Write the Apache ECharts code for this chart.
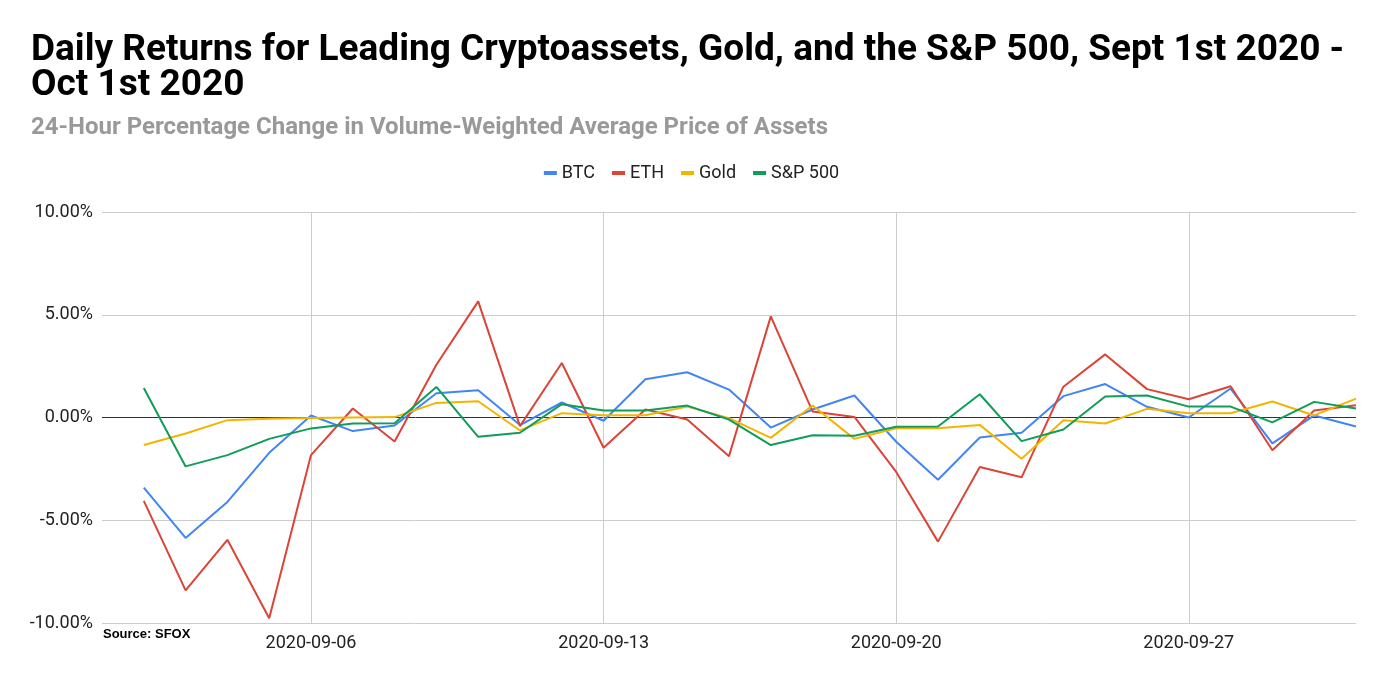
<!DOCTYPE html>
<html>
<head>
<meta charset="utf-8">
<script src="https://cdn.jsdelivr.net/npm/echarts@6/dist/echarts.min.js"></script>
<style>
  html, body { margin: 0; padding: 0; background: #fff; }
  #chart { width: 1383px; height: 677px; }
</style>
</head>
<body>
<div id="chart"></div>
<script>
(function() {
  // axis runs from Sep 1st, data starts Sep 2nd
  var axisDays = ['2020-09-01', '2020-09-02', '2020-09-03', '2020-09-04', '2020-09-05', '2020-09-06',
    '2020-09-07', '2020-09-08', '2020-09-09', '2020-09-10', '2020-09-11', '2020-09-12', '2020-09-13',
    '2020-09-14', '2020-09-15', '2020-09-16', '2020-09-17', '2020-09-18', '2020-09-19', '2020-09-20',
    '2020-09-21', '2020-09-22', '2020-09-23', '2020-09-24', '2020-09-25', '2020-09-26', '2020-09-27',
    '2020-09-28', '2020-09-29', '2020-09-30', '2020-10-01'];
  var dates = axisDays.slice(1);
  var tickDays = ['2020-09-06', '2020-09-13', '2020-09-20', '2020-09-27'];

  var btc = [-3.41, -5.86, -4.11, -1.72, 0.10, -0.66, -0.39, 1.18, 1.33, -0.37,
    0.73, -0.16, 1.86, 2.20, 1.36, -0.49, 0.39, 1.07, -1.18, -3.03,
    -0.97, -0.74, 1.04, 1.63, 0.52, 0.00, 1.41, -1.26, 0.10, -0.44];
  var eth = [-4.06, -8.41, -5.95, -9.77, -1.83, 0.44, -1.17, 2.57, 5.65, -0.42,
    2.65, -1.47, 0.39, -0.10, -1.88, 4.92, 0.29, 0.03, -2.65, -6.04,
    -2.41, -2.91, 1.50, 3.07, 1.38, 0.89, 1.52, -1.59, 0.34, 0.60];
  var gold = [-1.34, -0.78, -0.13, -0.06, -0.02, 0.00, 0.02, 0.71, 0.79, -0.63,
    0.21, 0.11, 0.11, 0.53, -0.03, -0.99, 0.58, -1.04, -0.52, -0.52,
    -0.36, -2.01, -0.13, -0.29, 0.42, 0.21, 0.21, 0.78, 0.10, 0.92];
  var sp500 = [1.44, -2.38, -1.83, -1.04, -0.53, -0.29, -0.28, 1.49, -0.94, -0.74,
    0.65, 0.34, 0.34, 0.58, -0.10, -1.34, -0.86, -0.89, -0.45, -0.44,
    1.13, -1.15, -0.58, 1.02, 1.07, 0.53, 0.53, -0.24, 0.76, 0.44];

  var names = ['BTC', 'ETH', 'Gold', 'S&P 500'];
  var colors = ['#4285F4', '#DB4437', '#F4B400', '#0F9D58'];
  var values = [btc, eth, gold, sp500];

  var isTick = function(idx, val) { return tickDays.indexOf(val) >= 0; };

  var chart = echarts.init(document.getElementById('chart'), null, { renderer: 'canvas' });
  chart.setOption({
    animation: false,
    color: colors,
    title: [{
      text: 'Daily Returns for Leading Cryptoassets, Gold, and the S&P 500, Sept 1st 2020 -\nOct 1st 2020',
      left: 26,
      top: 28,
      textStyle: { fontFamily: 'Roboto', fontWeight: 'bold', fontSize: 37, lineHeight: 35, color: '#000' }
    }, {
      text: '24-Hour Percentage Change in Volume-Weighted Average Price of Assets',
      left: 26,
      top: 111,
      textStyle: { fontFamily: 'Roboto', fontWeight: 'bold', fontSize: 24, color: '#999' }
    }],
    legend: {
      top: 159,
      left: 'center',
      icon: 'rect',
      itemWidth: 13,
      itemHeight: 4,
      itemGap: 17,
      textStyle: { fontFamily: 'Roboto', fontSize: 18, color: '#222' },
      data: names
    },
    grid: { left: 102, right: 27, top: 212, bottom: 54 },
    xAxis: {
      type: 'category',
      data: axisDays,
      boundaryGap: false,
      axisLine: { show: false },
      axisTick: { show: false },
      axisLabel: { interval: isTick, color: '#222', fontFamily: 'Roboto', fontSize: 18, margin: 11 },
      splitLine: { show: true, interval: isTick, lineStyle: { color: '#ccc', width: 1 } }
    },
    yAxis: {
      type: 'value',
      min: -10,
      max: 10,
      interval: 5,
      axisLine: { show: false },
      axisTick: { show: false },
      axisLabel: {
        color: '#222', fontFamily: 'Roboto', fontSize: 18, margin: 9,
        formatter: function(v) { return v.toFixed(2) + '%'; }
      },
      splitLine: { lineStyle: { color: ['#ccc', '#ccc', '#333', '#ccc', '#ccc'], width: 1 } }
    },
    graphic: [{
      type: 'text',
      left: 103,
      top: 628,
      style: {
        text: 'Source: SFOX',
        fontFamily: '"Liberation Sans", Arial',
        fontWeight: 'bold',
        fontSize: 13,
        fill: '#000'
      }
    }],
    series: values.map(function(arr, k) {
      return {
        name: names[k],
        type: 'line',
        showSymbol: false,
        symbol: 'none',
        lineStyle: { width: 2, color: colors[k] },
        data: dates.map(function(d, i) { return [d, arr[i]]; })
      };
    })
  });
  window.addEventListener('resize', function() { chart.resize(); });
})();
</script>
</body>
</html>
